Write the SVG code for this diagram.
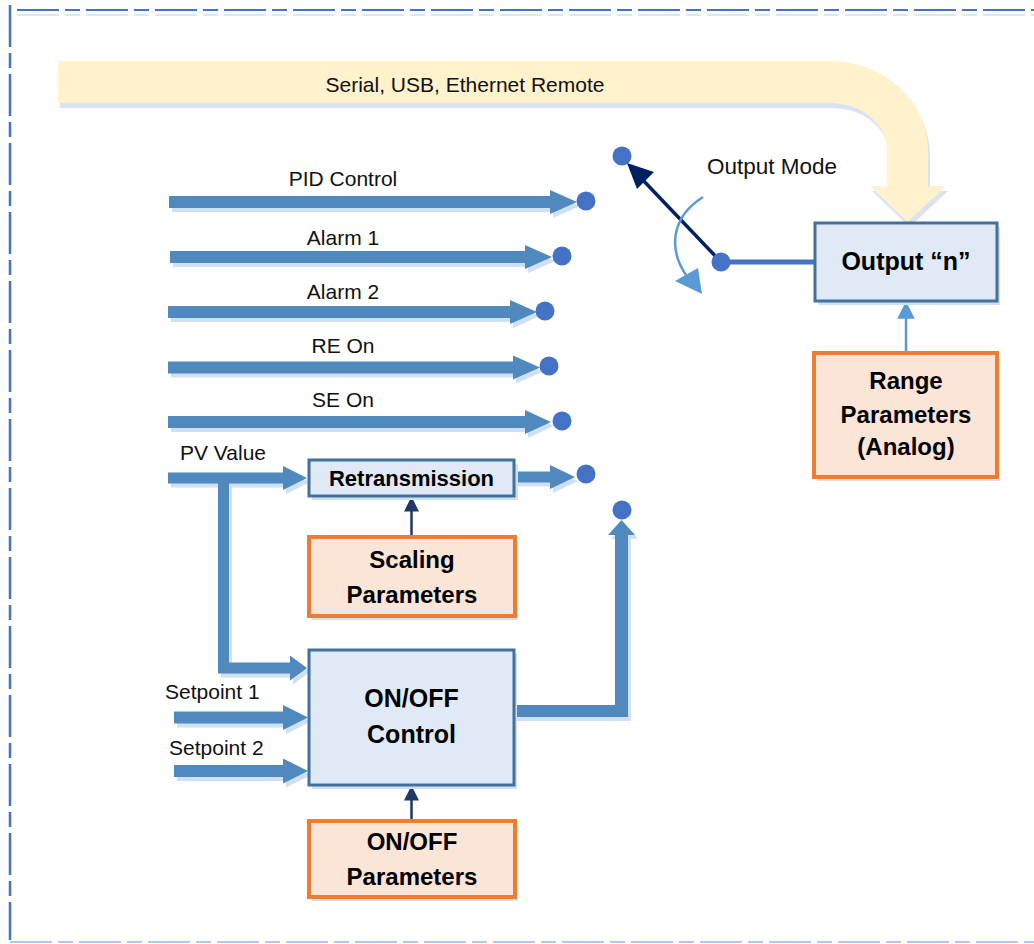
<svg xmlns="http://www.w3.org/2000/svg" width="1034" height="944" viewBox="0 0 1034 944">
<style>
.lbl{font-family:"Liberation Sans",Arial,sans-serif;font-size:21px;fill:#111;}
.bt{font-family:"Liberation Sans",Arial,sans-serif;font-size:24px;font-weight:bold;fill:#000;text-anchor:middle;}
.blue{fill:#dfeaf6;stroke:#41719c;stroke-width:3;}
.org{fill:#fbe5d6;stroke:#ed7d31;stroke-width:4;}
.shd{fill:#cfe0f2;}
.arr{fill:#4f89bd;}
.dot{fill:#4472c4;}
</style>
<defs>
<marker id="navyHead" viewBox="0 0 10 10" refX="9" refY="5" markerWidth="6" markerHeight="6" markerUnits="strokeWidth" orient="auto"><path d="M0,0 L10,5 L0,10 Z" fill="#1f3864"/></marker>
<marker id="lbHead" viewBox="0 0 10 10" refX="9" refY="5" markerWidth="7" markerHeight="7" markerUnits="strokeWidth" orient="auto"><path d="M0,0 L10,5 L0,10 Z" fill="#5b9bd5"/></marker>
</defs>
<rect width="1034" height="944" fill="#fff"/>
<g id="border" fill="none">
<line x1="17" y1="10" x2="1034" y2="10" stroke="#4472c4" stroke-width="2" stroke-dasharray="42 6 15 6"/>
<line x1="17" y1="15" x2="1034" y2="15" stroke="#dae8f5" stroke-width="2" stroke-dasharray="42 6 15 6"/>
<line x1="10" y1="5" x2="10" y2="940" stroke="#4472c4" stroke-width="2.5" stroke-dasharray="42 6 15 6"/>
<line x1="10" y1="942" x2="1034" y2="942" stroke="#b4c7e7" stroke-width="2" stroke-dasharray="42 6 15 6"/>
</g>
<g id="remote">
<path transform="translate(2,5)" fill="#dae3f3" d="M58,61 L830,61 A98,89 0 0 1 928,150 L928,186 L946,186 L907.5,222 L870,186 L887,186 L887,150 A57,47 0 0 0 830,103 L58,103 Z"/>
<path fill="#fff2cc" d="M58,61 L830,61 A98,89 0 0 1 928,150 L928,186 L946,186 L907.5,222 L870,186 L887,186 L887,150 A57,47 0 0 0 830,103 L58,103 Z"/>
<text class="lbl" x="465" y="92" text-anchor="middle">Serial, USB, Ethernet Remote</text>
</g>
<g id="connectors">
<g transform="translate(3,4)" class="shd">
<path d="M169,196 L550,196 L550,190 L577,202 L550,214 L550,208 L169,208 Z"/>
<path d="M170,251 L525,251 L525,245 L552,257 L525,269 L525,263 L170,263 Z"/>
<path d="M168,306 L510,306 L510,300 L537,312 L510,324 L510,318 L168,318 Z"/>
<path d="M168,361.5 L513,361.5 L513,355.5 L540,367.5 L513,379.5 L513,373.5 L168,373.5 Z"/>
<path d="M168,416 L525,416 L525,410 L551,422 L525,434 L525,428 L168,428 Z"/>
<path d="M168,472.5 L283,472.5 L283,466 L307,478 L283,490 L283,483.5 L168,483.5 Z"/>
<path d="M514,471.5 L550,471.5 L550,465 L575,477 L550,489 L550,482.5 L514,482.5 Z"/>
<path d="M218,478 L229,478 L229,662.5 L290,662.5 L290,655.5 L307,668 L290,680.5 L290,673.5 L218,673.5 Z"/>
<path d="M174,711.5 L283,711.5 L283,705 L308,717.5 L283,730 L283,723.5 L174,723.5 Z"/>
<path d="M174,765 L283,765 L283,758.5 L308,771 L283,783.5 L283,777 L174,777 Z"/>
<path d="M514,705 L615,705 L615,535 L608,535 L621.5,520 L635,535 L628,535 L628,717 L514,717 Z"/>
</g>
<g class="arr">
<path d="M169,196 L550,196 L550,190 L577,202 L550,214 L550,208 L169,208 Z"/>
<path d="M170,251 L525,251 L525,245 L552,257 L525,269 L525,263 L170,263 Z"/>
<path d="M168,306 L510,306 L510,300 L537,312 L510,324 L510,318 L168,318 Z"/>
<path d="M168,361.5 L513,361.5 L513,355.5 L540,367.5 L513,379.5 L513,373.5 L168,373.5 Z"/>
<path d="M168,416 L525,416 L525,410 L551,422 L525,434 L525,428 L168,428 Z"/>
<path d="M168,472.5 L283,472.5 L283,466 L307,478 L283,490 L283,483.5 L168,483.5 Z"/>
<path d="M514,471.5 L550,471.5 L550,465 L575,477 L550,489 L550,482.5 L514,482.5 Z"/>
<path d="M218,478 L229,478 L229,662.5 L290,662.5 L290,655.5 L307,668 L290,680.5 L290,673.5 L218,673.5 Z"/>
<path d="M174,711.5 L283,711.5 L283,705 L308,717.5 L283,730 L283,723.5 L174,723.5 Z"/>
<path d="M174,765 L283,765 L283,758.5 L308,771 L283,783.5 L283,777 L174,777 Z"/>
<path d="M514,705 L615,705 L615,535 L608,535 L621.5,520 L635,535 L628,535 L628,717 L514,717 Z"/>
</g>
<g class="dot">
<circle cx="586" cy="201" r="9.5"/>
<circle cx="562" cy="256" r="9.5"/>
<circle cx="545" cy="311" r="9.5"/>
<circle cx="549" cy="366" r="9.5"/>
<circle cx="562" cy="421" r="9.5"/>
<circle cx="586" cy="474" r="9.5"/>
<circle cx="622" cy="510" r="9.5"/>
<circle cx="622" cy="156" r="9.5"/>
</g>
<line x1="721" y1="262" x2="815" y2="262" stroke="#4472c4" stroke-width="5"/>
<line x1="721" y1="262" x2="640" y2="177" stroke="#002060" stroke-width="3.5"/>
<path d="M627,163 L654,172 L637,189 Z" fill="#002060"/>
<circle cx="721" cy="262" r="9.5" fill="#4472c4"/>
<path d="M703,197 C670,218 669,250 686,275" fill="none" stroke="#5b9bd5" stroke-width="2.5"/>
<path d="M675,281 L698,268 L702,294 Z" fill="#5b9bd5"/>
<line x1="411.5" y1="537" x2="411.5" y2="498" stroke="#1f3864" stroke-width="2.5" marker-end="url(#navyHead)"/>
<line x1="411.5" y1="821" x2="411.5" y2="787" stroke="#1f3864" stroke-width="2.5" marker-end="url(#navyHead)"/>
<line x1="906" y1="353" x2="906" y2="303" stroke="#5b9bd5" stroke-width="2.5" marker-end="url(#lbHead)"/>
</g>
<g id="labels">
<text class="lbl" x="343" y="186" text-anchor="middle">PID Control</text>
<text class="lbl" x="343" y="245" text-anchor="middle">Alarm 1</text>
<text class="lbl" x="343" y="299" text-anchor="middle">Alarm 2</text>
<text class="lbl" x="343" y="353" text-anchor="middle">RE On</text>
<text class="lbl" x="343" y="407" text-anchor="middle">SE On</text>
<text class="lbl" x="180" y="460">PV Value</text>
<text class="lbl" x="165" y="699">Setpoint 1</text>
<text class="lbl" x="169" y="755">Setpoint 2</text>
<text class="lbl" x="707" y="174" style="font-size:22.5px">Output Mode</text>
</g>
<g id="retransmission">
<rect class="shd" x="312" y="464" width="206" height="36"/>
<rect class="blue" x="309" y="460" width="205" height="36"/>
<text class="bt" x="411.5" y="486" style="font-size:22px">Retransmission</text>
</g>
<g id="scaling">
<rect class="shd" x="312" y="541" width="206" height="79"/>
<rect class="org" x="309" y="537" width="206" height="79"/>
<text class="bt" x="412" y="568">Scaling</text>
<text class="bt" x="412" y="603">Parameters</text>
</g>
<g id="onoff-control">
<rect class="shd" x="312" y="654" width="205" height="135"/>
<rect class="blue" x="309" y="650" width="205" height="135"/>
<text class="bt" x="411.5" y="707" style="font-size:25px">ON/OFF</text>
<text class="bt" x="411.5" y="743" style="font-size:25px">Control</text>
</g>
<g id="onoff-params">
<rect class="shd" x="312" y="825" width="206" height="76"/>
<rect class="org" x="309" y="821" width="206" height="76"/>
<text class="bt" x="412" y="850">ON/OFF</text>
<text class="bt" x="412" y="885">Parameters</text>
</g>
<g id="output-n">
<rect class="shd" x="818" y="227" width="182" height="78"/>
<rect class="blue" x="815" y="223" width="182" height="78"/>
<text class="bt" x="906" y="270" style="font-size:25px">Output “n”</text>
</g>
<g id="range">
<rect class="shd" x="817" y="357" width="183" height="124"/>
<rect class="org" x="814" y="353" width="183" height="124"/>
<text class="bt" x="906" y="389">Range</text>
<text class="bt" x="906" y="423">Parameters</text>
<text class="bt" x="906" y="455">(Analog)</text>
</g>
</svg>
